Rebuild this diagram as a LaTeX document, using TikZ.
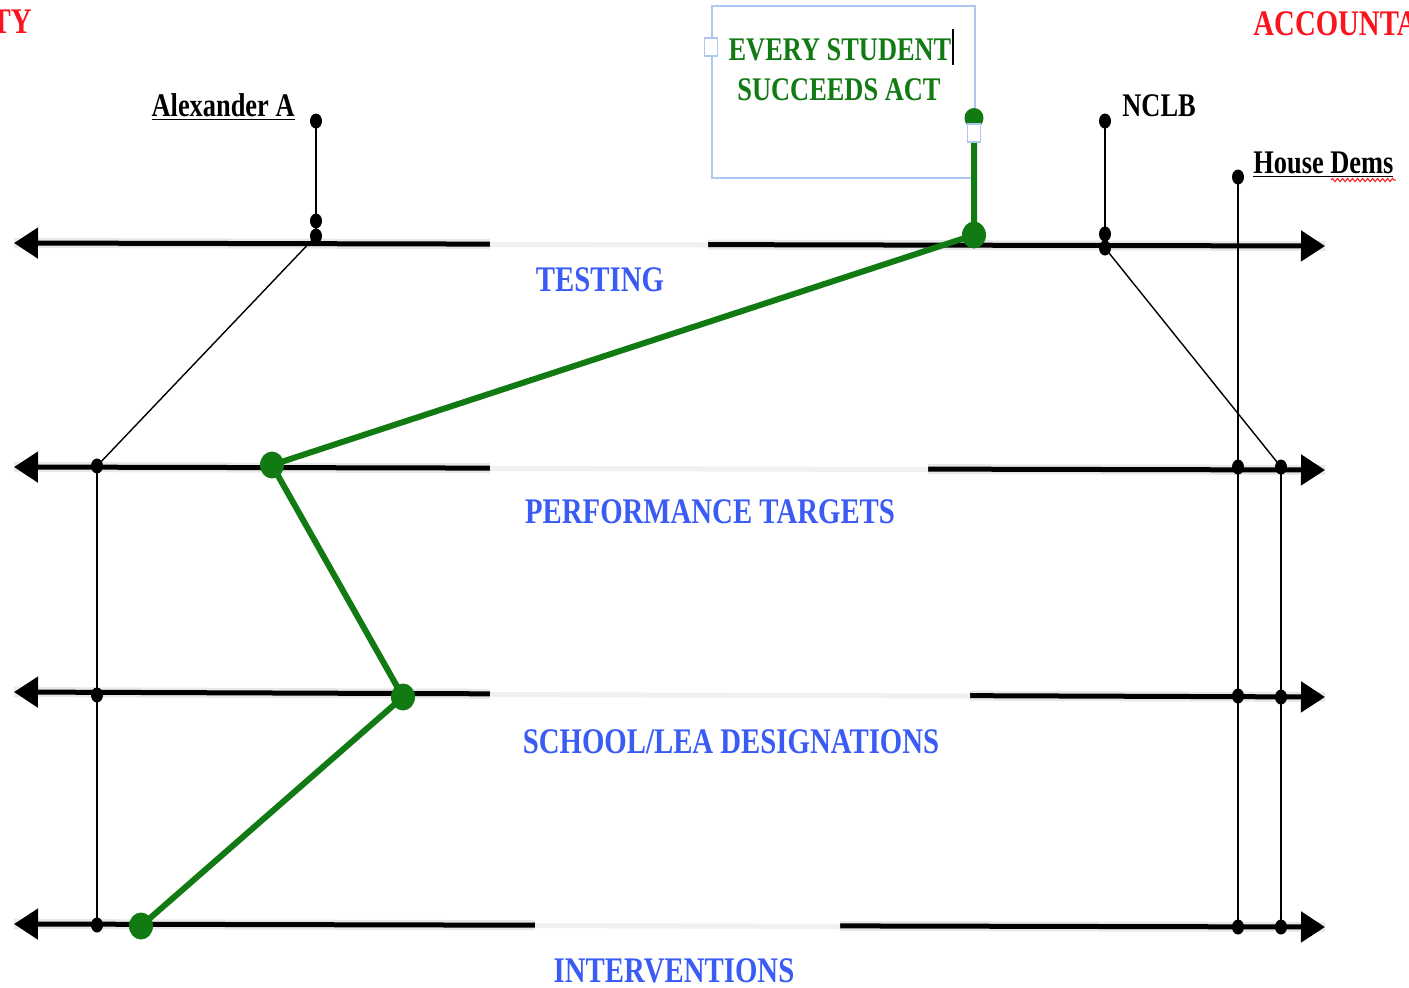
\documentclass[tikz,border=0pt]{standalone}
\usepackage{fontspec}
\setmainfont[FakeStretch=0.8]{Liberation Serif}
\usetikzlibrary{arrows.meta,decorations.pathmorphing,shapes.geometric}
\definecolor{lblue}{RGB}{58,92,245}
\definecolor{dgreen}{RGB}{18,122,18}
\definecolor{hred}{RGB}{250,20,30}
\definecolor{hbox}{RGB}{175,198,240}
\tikzset{
  axis/.style={line width=2.5pt,{Triangle[length=12pt,width=15pt]}-{Triangle[length=12pt,width=15pt]}},
  axshadow/.style={line width=5pt,black!9},
  thinline/.style={line width=1pt},
  diagline/.style={line width=0.7pt},
  gpath/.style={line width=3pt,dgreen,line join=round},
  bdot/.style={ellipse,fill=black,inner sep=0pt,minimum width=6pt,minimum height=7.5pt},
  gdot/.style={ellipse,fill=dgreen,inner sep=0pt,minimum width=12pt,minimum height=13.5pt},
  labbox/.style={fill=white,draw=none},
  faint/.style={line width=2.5pt,black!6},
  cat/.style={text=lblue,font=\fontsize{18}{20}\selectfont\bfseries,inner sep=0pt,anchor=base},
  who/.style={text=black,font=\fontsize{16.5}{18}\selectfont\bfseries,inner sep=0pt},
  essa/.style={text=dgreen,font=\fontsize{16.5}{18}\selectfont\bfseries,inner sep=0pt,anchor=base},
  big/.style={text=hred,font=\fontsize{18}{20}\selectfont\bfseries,inner sep=0pt},
  handle/.style={draw=hbox,fill=white,line width=0.7pt,inner sep=0pt,minimum width=6.5pt,minimum height=9pt}
}
\begin{document}
\begin{tikzpicture}[x=0.5pt,y=-0.5pt]
\useasboundingbox (0,0) rectangle (1409,987);
\begin{scope}
\clip (0,0) rectangle (1409,987);
% axis end points
\coordinate (L1a) at (14,243); \coordinate (L1b) at (1325,246);
\coordinate (L2a) at (14,467); \coordinate (L2b) at (1325,470);
\coordinate (L3a) at (14,692); \coordinate (L3b) at (1325,697);
\coordinate (L4a) at (14,924); \coordinate (L4b) at (1325,927);
% soft shadows under the axes
\begin{scope}[shift={(3,6)}]
\draw[axshadow] (L1a) -- (L1b);
\draw[axshadow] (L2a) -- (L2b);
\draw[axshadow] (L3a) -- (L3b);
\draw[axshadow] (L4a) -- (L4b);
\end{scope}
\draw[axis] (L1a) -- (L1b);
\draw[axis] (L2a) -- (L2b);
\draw[axis] (L3a) -- (L3b);
\draw[axis] (L4a) -- (L4b);
% label boxes covering the axes
\fill[labbox] (490,238) rectangle (708,305);
\draw[faint] (490,244.5) -- (708,245);
\fill[labbox] (490,462) rectangle (928,530);
\draw[faint] (490,468.5) -- (928,469.5);
\fill[labbox] (490,687) rectangle (970,760);
\draw[faint] (490,694.5) -- (970,696);
\fill[labbox] (535,919) rectangle (840,987);
\draw[faint] (535,925.5) -- (840,926.5);
% ESSA text box
\draw[hbox,line width=0.8pt] (712,6) rectangle (975,178);
% black dots
\node[bdot] (a0) at (316,121) {};
\node[bdot] (a1) at (316,221) {};
\node[bdot] (a2) at (316,236) {};
\node[bdot] (l1) at (97,466) {};
\node[bdot] (l2) at (97,695) {};
\node[bdot] (l3) at (97,925) {};
\node[bdot] (n0) at (1105,121) {};
\node[bdot] (n1) at (1105,234) {};
\node[bdot] (n2) at (1105,248) {};
\node[bdot] (h0) at (1238,177) {};
\node[bdot] (h1) at (1238,467) {};
\node[bdot] (h2) at (1238,696) {};
\node[bdot] (h3) at (1238,927) {};
\node[bdot] (r1) at (1281,467) {};
\node[bdot] (r2) at (1281,697) {};
\node[bdot] (r3) at (1281,927) {};
% thin connectors
\draw[thinline] (a0.center) -- (a2.center);
\draw[diagline] (a2.center) -- (l1.center);
\draw[thinline] (l1.center) -- (l3.center);
\draw[thinline] (n0.center) -- (n2.center);
\draw[diagline] (n2.center) -- (r1.center);
\draw[thinline] (r1.center) -- (r3.center);
\draw[thinline] (h0.center) -- (h3.center);
% green path
\node[gdot,minimum width=9.5pt,minimum height=10pt] (g0) at (974,118) {};
\node[gdot] (g1) at (974,235) {};
\node[gdot] (g2) at (272,465) {};
\node[gdot] (g3) at (403,697) {};
\node[gdot] (g4) at (141,926) {};
\draw[gpath] (g0.center) -- (g1.center) -- (g2.center) -- (g3.center) -- (g4.center);
% handles and cursor
\node[handle] (hd1) at (711,47) {};
\node[handle] (hd2) at (974,133) {};
\draw[line width=0.6pt] (953,29) -- (953,65);
% texts
\node[cat] (t1) at (600,291) {TESTING};
\node[cat] (t2) at (710,523) {PERFORMANCE TARGETS};
\node[cat] (t3) at (731,753) {SCHOOL/LEA DESIGNATIONS};
\node[cat] (t4) at (674,982) {INTERVENTIONS};
\node[essa] (e1) at (840,60) {EVERY STUDENT};
\node[essa] (e2) at (839,100) {SUCCEEDS ACT};
\node[who,anchor=base east] (alex) at (295,116) {\underline{Alexander A}};
\node[who,anchor=base west] (nclb) at (1122,116) {NCLB};
\node[who,anchor=base west] (house) at (1253,173) {\underline{House Dems}};
\draw[hred,line width=0.5pt,decorate,decoration={snake,amplitude=0.8pt,segment length=2.5pt}] (1331,180) -- (1396,180);
\node[big,anchor=base east] (ty) at (32,33) {TY};
\node[big,anchor=base west] (acc) at (1253,35) {ACCOUNTABILITY};
\end{scope}
\end{tikzpicture}
\end{document}
